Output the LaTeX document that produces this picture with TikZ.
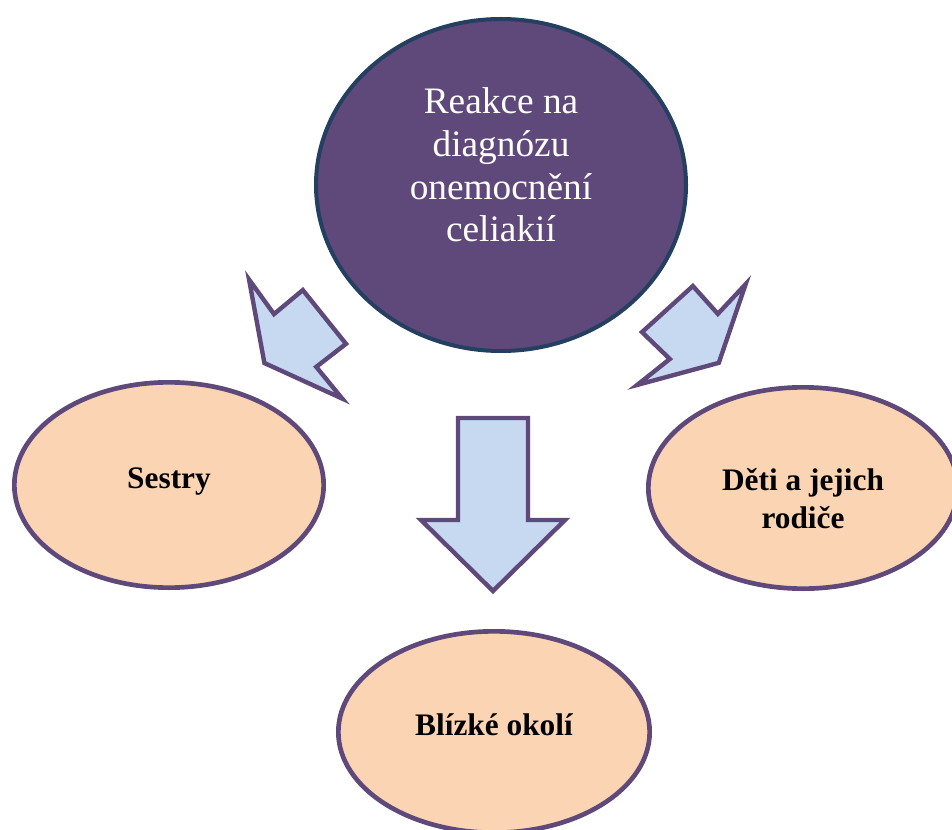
\documentclass[tikz,border=0pt]{standalone}
\usepackage{fontspec}
\setmainfont{Liberation Serif}
\usetikzlibrary{shapes.geometric}
\definecolor{plum}{HTML}{5F497A}
\definecolor{navyedge}{HTML}{243F60}
\definecolor{peach}{HTML}{FBD4B4}
\definecolor{paleblue}{HTML}{C6D9F1}
\begin{document}
\begin{tikzpicture}[x=0.75pt,y=-0.75pt,
  hub/.style={ellipse, draw=navyedge, fill=plum, line width=3pt,
    minimum width=277.5pt, minimum height=249pt, inner sep=0pt},
  leaf/.style={ellipse, draw=plum, fill=peach, line width=3.5pt, inner sep=0pt,
    minimum width=232pt, minimum height=154pt},
  hubtext/.style={text=white, font=\fontsize{28}{32}\selectfont, align=center},
  leaftext/.style={font=\fontsize{23.5}{28.5}\selectfont\bfseries, align=center},
  blockarrow/.style={draw=plum, fill=paleblue, line width=3.3pt, line join=miter}
]
\useasboundingbox (0,0) rectangle (952,830);

% central topic
\node[hub] (hub) at (501,185) {};
\node[hubtext] (hubtxt) at (501,165) {Reakce na\\diagnózu\\onemocnění\\celiakií};

% block arrows pointing from the topic to the three groups
\begin{scope}[scale around={0.96:(298,340)}]
  \draw[blockarrow] (303,288) -- (348,344) -- (317,368) -- (344,401)
    -- (263,364) -- (247,277) -- (273,313) -- cycle;
\end{scope}
\begin{scope}[scale around={0.96:(690,335)}]
  \draw[blockarrow] (693,284) -- (719,313) -- (748,282) -- (720,364)
    -- (635,387) -- (669,360) -- (640,332) -- cycle;
\end{scope}
\draw[blockarrow] (458,418) -- (528,418) -- (528,520) -- (565,520)
  -- (493,591) -- (421,520) -- (458,520) -- cycle;

% groups
\node[leaf] (sestry) at (169,485) {};
\node[leaftext, anchor=base] (sestrytxt) at (169,488) {Sestry};

\node[leaf, minimum height=151pt] (deti) at (803,488) {};
\node[leaftext] (detitxt) at (803,499) {Děti a jejich\\rodiče};

\node[leaf, minimum height=151pt, minimum width=233.5pt] (okoli) at (494,732) {};
\node[leaftext, anchor=base] (okolitxt) at (494,735) {Blízké okolí};
\end{tikzpicture}
\end{document}
